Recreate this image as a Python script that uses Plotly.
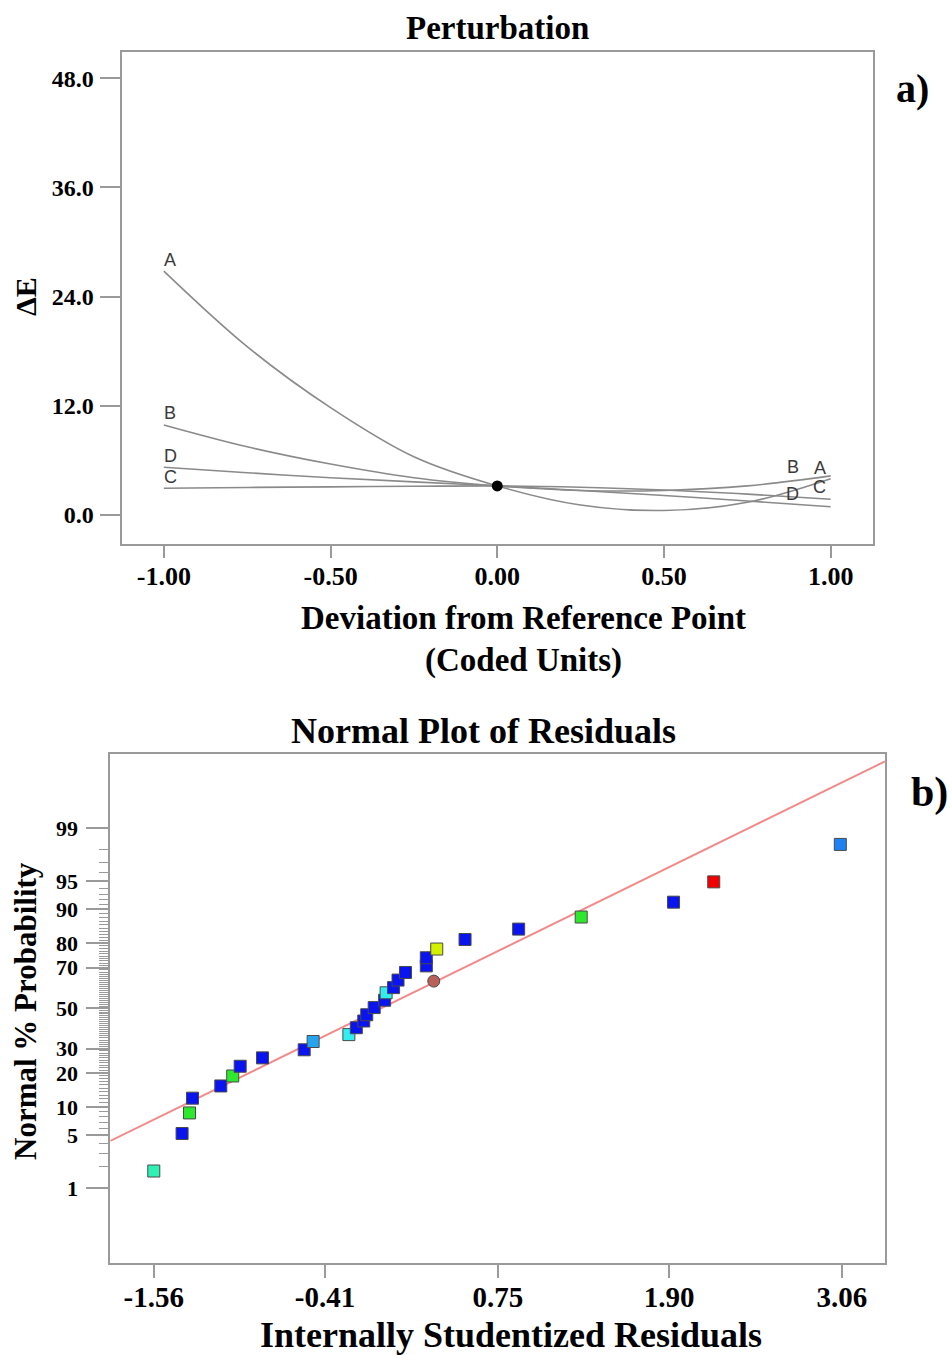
import plotly.graph_objects as go
from statistics import NormalDist

W, H = 952, 1355
SERIF = "Liberation Serif"
SANS = "Liberation Sans"
FRAME = "#9a9a9a"
CURVE = "#8a8a8a"

# ---------------- panel a: perturbation curves ----------------
coded = [-1.0, -0.75, -0.5, -0.25, 0.0, 0.25, 0.5, 0.75, 1.0]
dE_A = [26.8, 18.5, 11.8, 6.4, 3.2, 1.1, 0.5, 1.4, 4.0]
dE_B = [9.9, 7.5, 5.6, 4.1, 3.2, 2.7, 2.7, 3.2, 4.3]
dE_C = [2.95, 3.03, 3.1, 3.16, 3.2, 3.05, 2.75, 2.3, 1.73]
dE_D = [5.25, 4.65, 4.1, 3.65, 3.2, 2.7, 2.15, 1.55, 0.92]
ref_x = [0.0]
ref_y = [3.2]

factor_names = ["A", "B", "C", "D"]
label_left_x = [-0.982, -0.982, -0.98, -0.98]
label_left_y = [28.0, 11.2, 4.15, 6.5]
label_right_x = [0.968, 0.888, 0.968, 0.885]
label_right_y = [5.14, 5.32, 3.12, 2.32]

a_xticks = [-1.0, -0.5, 0.0, 0.5, 1.0]
a_xticktext = ["-1.00", "-0.50", "0.00", "0.50", "1.00"]
a_yticks = [0.0, 12.0, 24.0, 36.0, 48.0]
a_yticktext = ["0.0", "12.0", "24.0", "36.0", "48.0"]
a_xrange = [-1.127, 1.127]
a_yrange = [-3.18, 50.9]

# ---------------- panel b: normal plot of residuals ----------------
resid = [-1.56, -1.37, -1.32, -1.30, -1.11, -1.03, -0.98, -0.83, -0.55, -0.49,
         -0.25, -0.20, -0.15, -0.13, -0.08, -0.01, 0.00, 0.05, 0.08, 0.32,
         0.13, 0.27, 0.27, 0.34, 0.53, 0.89, 1.31, 1.93, 2.20, 3.05]
norm_prob = [1.75, 5.23, 8.75, 12.2, 15.7, 19.0, 22.6, 26.0, 29.5, 33.3,
             36.6, 40.0, 43.4, 46.6, 50.3, 54.1, 57.9, 60.5, 64.2, 63.7,
             67.8, 70.8, 74.3, 77.8, 81.3, 84.7, 88.1, 91.5, 94.9, 98.3]
point_color = ["#2ef2b4", "#0a14ee", "#2ee82e", "#0a14ee", "#0a14ee", "#2ee82e",
               "#0a14ee", "#0a14ee", "#0a14ee", "#25a5f0", "#33eeee", "#0a14ee",
               "#0a14ee", "#0a14ee", "#0a14ee", "#0a14ee", "#33eeee", "#0a14ee",
               "#0a14ee", "#b8605a", "#0a14ee", "#0a14ee", "#0a14ee", "#d2f000",
               "#0a14ee", "#0a14ee", "#2ee82e", "#0a14ee", "#f20000", "#1e82f5"]
point_symbol = ["square"] * 19 + ["circle"] + ["square"] * 10

fit_x = [-1.852, 3.35]
fit_prob = [4.28, 99.93]

b_xticks = [-1.56, -0.41, 0.75, 1.90, 3.06]
b_xticktext = ["-1.56", "-0.41", "0.75", "1.90", "3.06"]
b_yticks_pct = [1, 5, 10, 20, 30, 50, 70, 80, 90, 95, 99]
b_yticktext = ["1", "5", "10", "20", "30", "50", "70", "80", "90", "95", "99"]
b_xrange = [-1.852, 3.35]
b_yrange_pct = [0.0485, 99.95]

nd = NormalDist()


def probit(pct):
    """Percent probability -> standard normal quantile (probability-paper scale)."""
    return nd.inv_cdf(pct / 100.0)


fig = go.Figure()

for name, ys in zip(factor_names, [dE_A, dE_B, dE_C, dE_D]):
    fig.add_trace(go.Scatter(
        x=coded, y=ys, mode="lines", name=name,
        line=dict(color=CURVE, width=1.6, shape="spline", smoothing=1.0),
        xaxis="x", yaxis="y", hoverinfo="skip"))

fig.add_trace(go.Scatter(
    x=ref_x, y=ref_y, mode="markers",
    marker=dict(color="black", size=11, symbol="circle"),
    xaxis="x", yaxis="y", hoverinfo="skip"))

fig.add_trace(go.Scatter(
    x=fit_x, y=[probit(p) for p in fit_prob], mode="lines",
    line=dict(color="#f28a8a", width=2),
    xaxis="x2", yaxis="y2", hoverinfo="skip"))

fig.add_trace(go.Scatter(
    x=resid, y=[probit(p) for p in norm_prob], mode="markers",
    marker=dict(color=point_color, symbol=point_symbol, size=12,
                line=dict(color="#4a4a4a", width=1)),
    xaxis="x2", yaxis="y2", hoverinfo="skip"))

annotations = []
for i, name in enumerate(factor_names):
    for lx, ly in ((label_left_x[i], label_left_y[i]), (label_right_x[i], label_right_y[i])):
        annotations.append(dict(
            x=lx, y=ly, xref="x", yref="y", text=name, showarrow=False,
            xanchor="center", yanchor="middle",
            font=dict(family=SANS, size=18, color="#3a3a3a")))


def paper_text(text, px, py, size, angle=0):
    return dict(x=px / W, y=1 - py / H, xref="paper", yref="paper", text=text,
                showarrow=False, xanchor="center", yanchor="middle", textangle=angle,
                font=dict(family=SERIF, size=size, color="black", weight="bold"))


annotations += [
    paper_text("Perturbation", 497, 28, 33),
    paper_text("Deviation from Reference Point", 523, 618, 33),
    paper_text("(Coded Units)", 523, 660, 33),
    paper_text("ΔE", 25, 297, 30, -90),
    paper_text("a)", 912, 88, 40),
    paper_text("Normal Plot of Residuals", 483, 731, 36),
    paper_text("Internally Studentized Residuals", 511, 1335, 36),
    paper_text("Normal % Probability", 25, 1011, 31, -90),
    paper_text("b)", 929, 793, 42),
]

frame = dict(showline=True, mirror=True, linecolor=FRAME, linewidth=2,
             showgrid=False, zeroline=False, ticks="outside", tickcolor=FRAME,
             tickwidth=1.5, tickmode="array")

minor_pct = [p for p in range(2, 99) if p not in b_yticks_pct]

fig.update_layout(
    width=W, height=H,
    margin=dict(l=0, r=0, t=0, b=0),
    paper_bgcolor="white", plot_bgcolor="white",
    showlegend=False,
    xaxis=dict(frame, domain=[121.5 / W, 873 / W], anchor="y", range=a_xrange,
               tickvals=a_xticks, ticktext=a_xticktext, ticklen=12,
               ticklabelstandoff=-4,
               tickfont=dict(family=SERIF, size=26, color="black", weight="bold")),
    yaxis=dict(frame, domain=[1 - 544 / H, 1 - 51.7 / H], anchor="x", range=a_yrange,
               tickvals=a_yticks, ticktext=a_yticktext, ticklen=20,
               ticklabelstandoff=1,
               tickfont=dict(family=SERIF, size=24, color="black", weight="bold")),
    xaxis2=dict(frame, domain=[110.3 / W, 885 / W], anchor="y2", range=b_xrange,
                tickvals=b_xticks, ticktext=b_xticktext, ticklen=13,
                ticklabelstandoff=-6,
                tickfont=dict(family=SERIF, size=29, color="black", weight="bold")),
    yaxis2=dict(frame, domain=[1 - 1263 / H, 1 - 754 / H], anchor="x2",
                range=[probit(p) for p in b_yrange_pct],
                tickvals=[probit(p) for p in b_yticks_pct], ticktext=b_yticktext,
                ticklen=22, ticklabelstandoff=4,
                tickfont=dict(family=SERIF, size=22, color="black", weight="bold"),
                minor=dict(tickmode="array", tickvals=[probit(p) for p in minor_pct],
                           ticks="outside", ticklen=9, tickcolor=FRAME, tickwidth=1)),
    annotations=annotations,
)

fig.write_html("out.html", config={"displayModeBar": False})
